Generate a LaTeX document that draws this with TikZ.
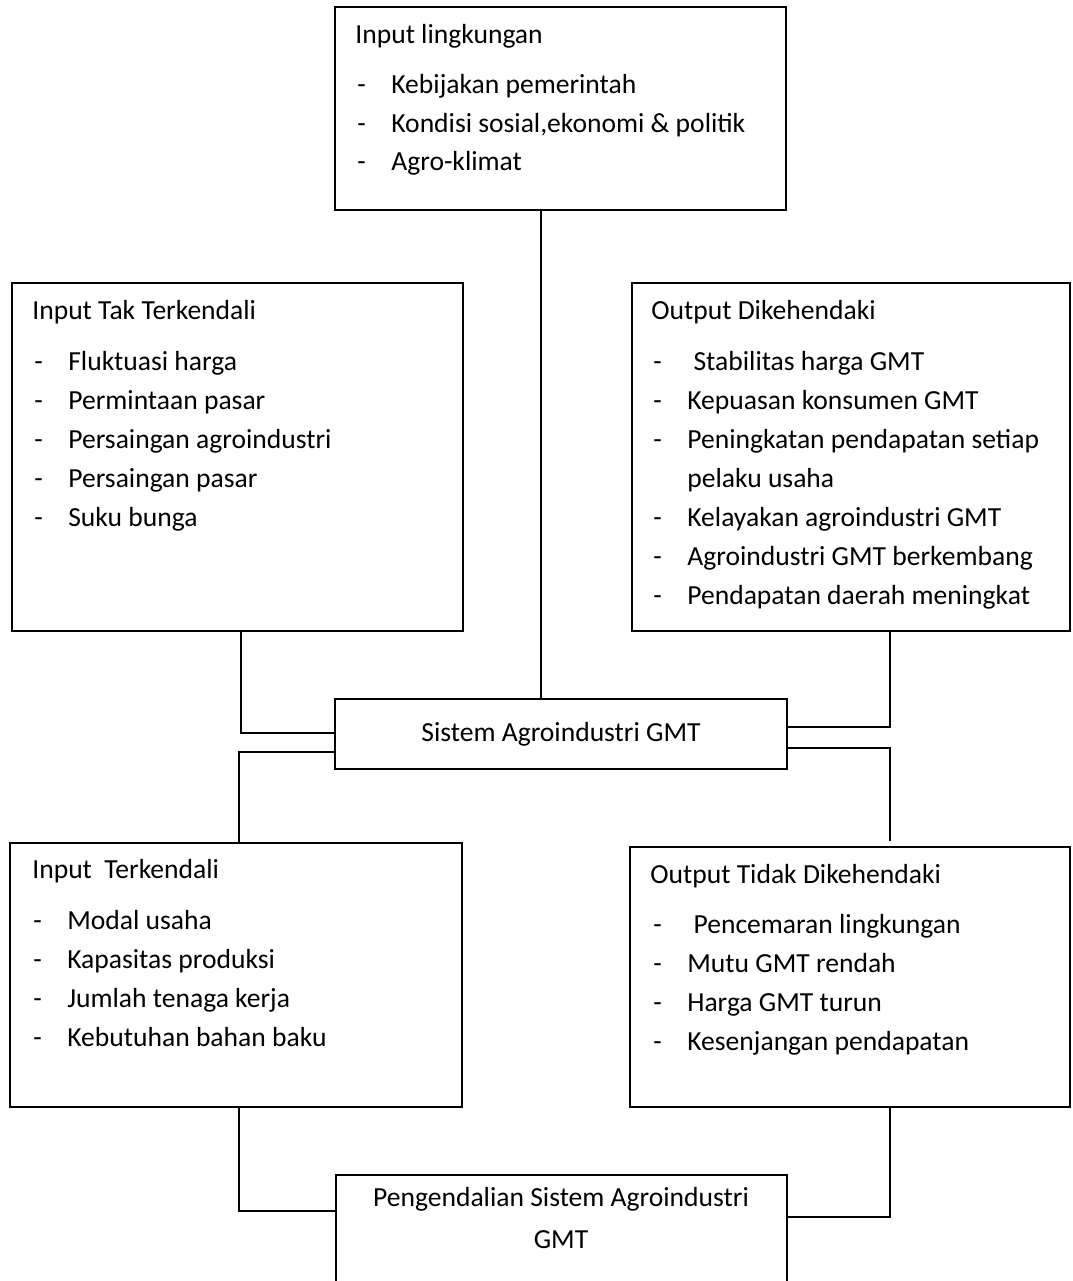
\documentclass[tikz,border=0pt]{standalone}
\usepackage{fontspec}
\setmainfont{Carlito}
\usepackage{tikz}
\usetikzlibrary{calc}
\tikzstyle{blk}=[rectangle, draw=black, line width=1pt, inner sep=0pt]
\tikzstyle{txt}=[anchor=base west, inner sep=0pt, font=\fontsize{15.7}{19}\selectfont]
\tikzstyle{ctxt}=[anchor=base, inner sep=0pt, font=\fontsize{15.7}{19}\selectfont]
\tikzstyle{wire}=[line width=1pt]
\newcommand{\dsh}{\makebox[0.68cm][l]{-}}

\begin{document}
\begin{tikzpicture}[x=0.02cm,y=-0.02cm]
\useasboundingbox (0,0) rectangle (1072,1281);
\clip (0,0) rectangle (1072,1281);
% boxes
\node[blk, minimum width=9.02cm, minimum height=4.06cm] (env) at (560.5,108.5) {};
\node[blk, minimum width=9.02cm, minimum height=6.96cm] (unc) at (237.5,457) {};
\node[blk, minimum width=8.76cm, minimum height=6.96cm] (want) at (851,457) {};
\node[blk, minimum width=9.04cm, minimum height=1.40cm, font=\fontsize{15.7}{19}\selectfont] (sys) at (561,734) {Sistem Agroindustri GMT};
\node[blk, minimum width=9.04cm, minimum height=5.28cm] (ctrl) at (236,975) {};
\node[blk, minimum width=8.80cm, minimum height=5.20cm] (unwant) at (850,977) {};
\node[blk, minimum width=9.02cm, minimum height=2.40cm] (pgd) at (561.5,1235) {};
% Input lingkungan
\node[txt] (envh) at (355,43) {Input lingkungan};
\node[txt] (env1) at (357,93) {\dsh Kebijakan pemerintah};
\node[txt] (env2) at (357,132) {\dsh Kondisi sosial,ekonomi \& politik};
\node[txt] (env3) at (357,170) {\dsh Agro-klimat};
% Input Tak Terkendali
\node[txt] (unch) at (32,319) {Input Tak Terkendali};
\node[txt] (unc1) at (34,370) {\dsh Fluktuasi harga};
\node[txt] (unc2) at (34,409) {\dsh Permintaan pasar};
\node[txt] (unc3) at (34,448) {\dsh Persaingan agroindustri};
\node[txt] (unc4) at (34,487) {\dsh Persaingan pasar};
\node[txt] (unc5) at (34,526) {\dsh Suku bunga};
% Output Dikehendaki
\node[txt] (wanth) at (651,319) {Output Dikehendaki};
\node[txt] (want1) at (653,370) {\dsh\ Stabilitas harga GMT};
\node[txt] (want2) at (653,409) {\dsh Kepuasan konsumen GMT};
\node[txt] (want3) at (653,448) {\dsh Peningkatan pendapatan setiap};
\node[txt] (want3b) at (687,487) {pelaku usaha};
\node[txt] (want4) at (653,526) {\dsh Kelayakan agroindustri GMT};
\node[txt] (want5) at (653,565) {\dsh Agroindustri GMT berkembang};
\node[txt] (want6) at (653,604) {\dsh Pendapatan daerah meningkat};
% Input Terkendali
\node[txt] (ctrlh) at (32,878) {Input\ \ Terkendali};
\node[txt] (ctrl1) at (33,929) {\dsh Modal usaha};
\node[txt] (ctrl2) at (33,968) {\dsh Kapasitas produksi};
\node[txt] (ctrl3) at (33,1007) {\dsh Jumlah tenaga kerja};
\node[txt] (ctrl4) at (33,1046) {\dsh Kebutuhan bahan baku};
% Output Tidak Dikehendaki
\node[txt] (unwanth) at (650,883) {Output Tidak Dikehendaki};
\node[txt] (unwant1) at (653,933) {\dsh\ Pencemaran lingkungan};
\node[txt] (unwant2) at (653,972) {\dsh Mutu GMT rendah};
\node[txt] (unwant3) at (653,1011) {\dsh Harga GMT turun};
\node[txt] (unwant4) at (653,1050) {\dsh Kesenjangan pendapatan};
% Pengendalian
\node[ctxt] (pgd1) at (561,1206) {Pengendalian Sistem Agroindustri};
\node[ctxt] (pgd2) at (561,1248) {GMT};
% connectors
\coordinate (envdn) at ($(env.south)+(-19.5,0)$);
\draw[wire] (envdn) -- (envdn |- sys.north);
\draw[wire] ($(unc.south)+(3.5,0)$) |- ($(sys.west)+(0,-1)$);
\draw[wire] ($(sys.west)+(0,18)$) -| ($(ctrl.north)+(3,0)$);
\draw[wire] ($(sys.east)+(0,-7)$) -| ($(want.south)+(39,0)$);
\draw[wire] ($(sys.east)+(0,14)$) -| ($(unwant.north)+(40,-5)$);
\draw[wire] ($(ctrl.south)+(3,0)$) |- ($(pgd.west)+(0,-24)$);
\draw[wire] ($(pgd.east)+(0,-18)$) -| ($(unwant.south)+(40,0)$);
\end{tikzpicture}
\end{document}
